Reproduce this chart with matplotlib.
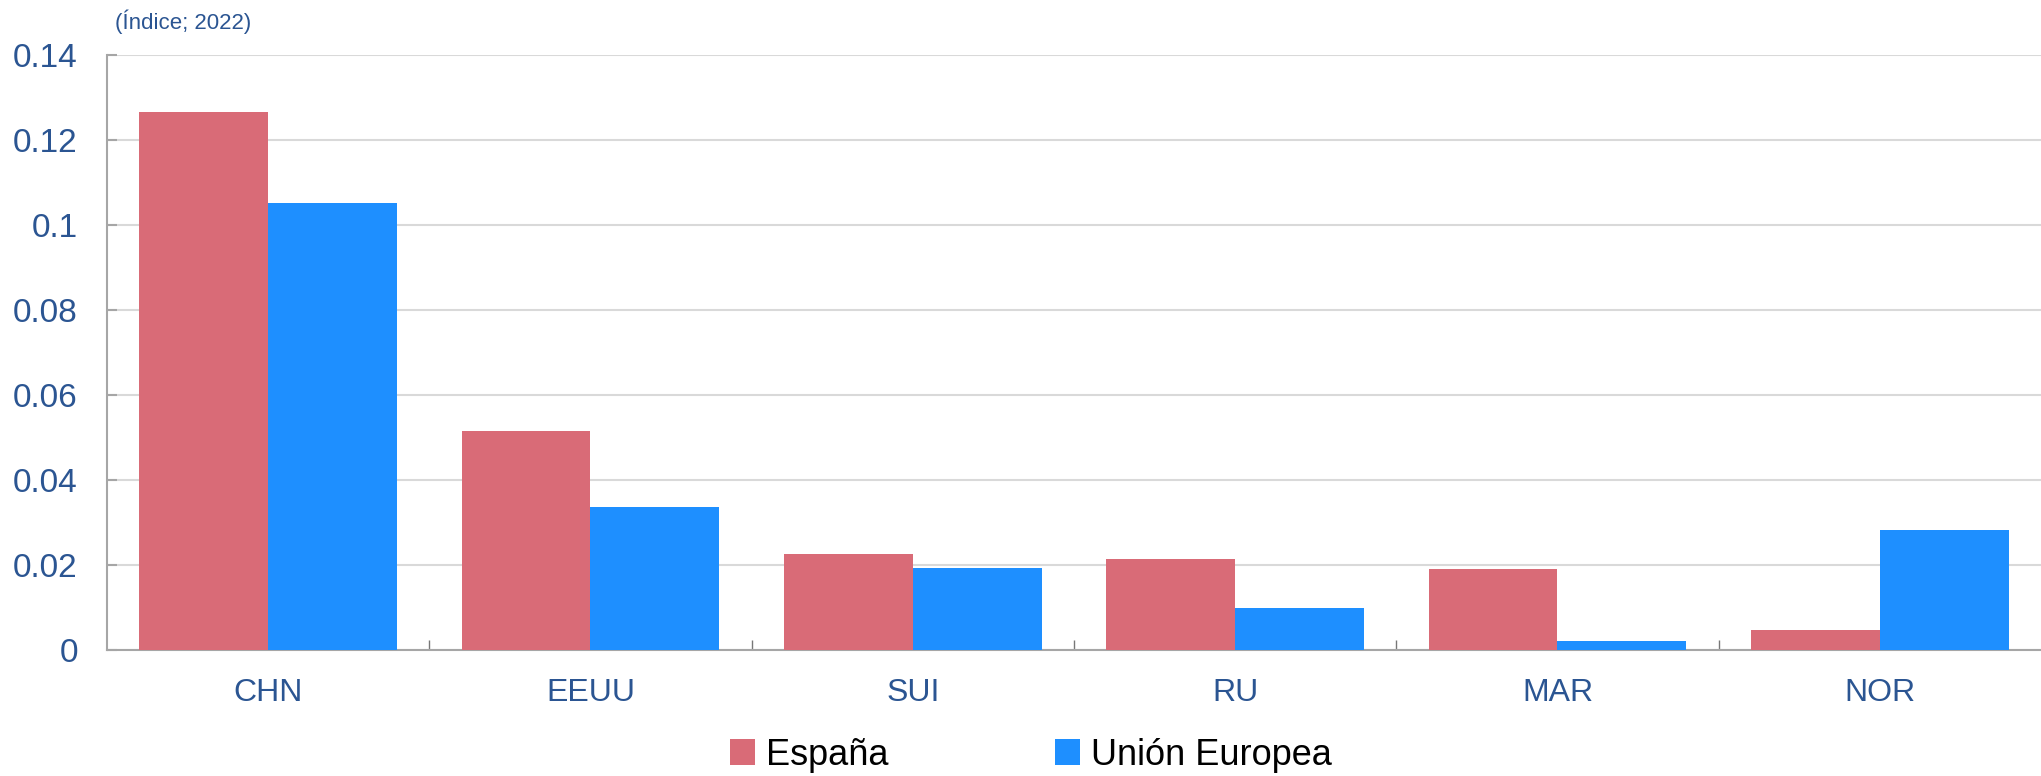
import matplotlib.pyplot as plt
import numpy as np

# Data
paises = ["CHN", "EEUU", "SUI", "RU", "MAR", "NOR"]
espana = [0.1265, 0.0515, 0.0227, 0.0214, 0.0190, 0.0046]
union_europea = [0.1051, 0.0337, 0.0193, 0.0098, 0.0021, 0.0282]

txt_color = "#2B5592"
red = "#D96B77"
blue = "#1E8FFF"

plt.rcParams["font.family"] = ["Liberation Sans", "DejaVu Sans"]

fig = plt.figure(figsize=(20.41, 7.76), dpi=100)
ax = fig.add_axes([0.0524, 0.1624, 0.9476, 0.7667])

x = np.arange(len(paises))
w = 0.4
ax.bar(x - w / 2, espana, w, color=red, label="España", zorder=3)
ax.bar(x + w / 2, union_europea, w, color=blue, label="Unión Europea", zorder=3)

ax.set_xlim(-0.5, len(paises) - 0.5)
ax.set_ylim(0, 0.14)
ax.set_yticks(np.arange(0, 0.141, 0.02))
ax.set_yticklabels(["0", "0.02", "0.04", "0.06", "0.08", "0.1", "0.12", "0.14"])
ax.set_xticks(x)
ax.set_xticklabels(paises)
ax.set_xticks(np.arange(0.5, len(paises) - 0.5, 1), minor=True)

ax.grid(axis="y", color="#D9D9D9", lw=1.5, zorder=0)
for s in ["top", "right"]:
    ax.spines[s].set_visible(False)
for s in ["left", "bottom"]:
    ax.spines[s].set_color("#A6A6A6")
    ax.spines[s].set_linewidth(1.5)

ax.tick_params(axis="y", direction="in", length=7, color="#A6A6A6", width=1.5,
               labelsize=24, labelcolor=txt_color, pad=21)
ax.tick_params(axis="x", which="major", length=0, labelsize=23, labelcolor=txt_color, pad=20)
ax.tick_params(axis="x", which="minor", direction="in", length=7, color="#777777", width=1)

# title sits just right of the y axis
ax.annotate("(Índice; 2022)", xy=(0, 1), xycoords="axes fraction",
            xytext=(6, 24), textcoords="offset points",
            fontsize=16, color=txt_color, ha="left", va="center")

fig.legend(loc="center", bbox_to_anchor=(0.505, 0.027), ncol=2, frameon=False,
           fontsize=26, handlelength=0.7, handleheight=0.7, handletextpad=0.3,
           columnspacing=4.6, borderpad=0)

fig.savefig("out.png", dpi=100)
